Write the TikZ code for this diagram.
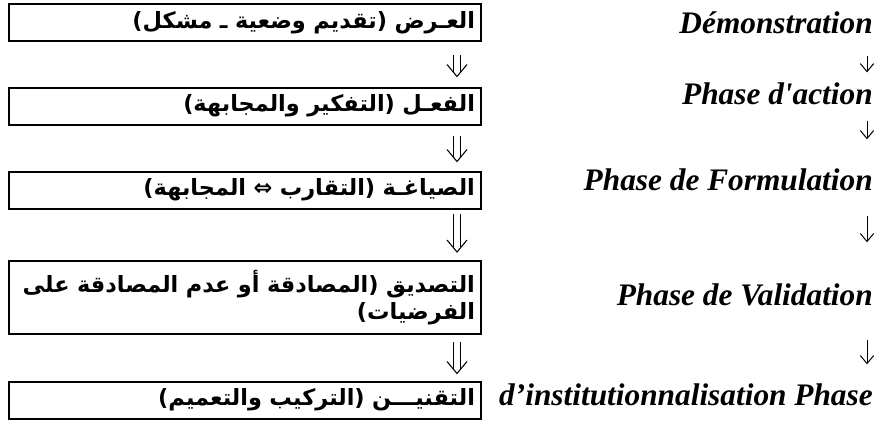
\documentclass[tikz,border=0pt]{standalone}
\usepackage{fontspec}
\newfontfamily\phasefont{Liberation Serif}
\newfontfamily\arabicfont[Script=Arabic]{DejaVu Sans}
\TeXXeTstate=1
\usetikzlibrary{calc, arrows.meta}

\begin{document}
\begin{tikzpicture}[x=0.75pt, y=-0.75pt,
  stagebox/.style={draw, rectangle, line width=1.5pt, minimum width=354pt,
    minimum height=27.75pt, text width=345pt, inner xsep=4.5pt, inner ysep=0pt,
    align=right, font=\arabicfont\bfseries\fontsize{16.8}{20.5}\selectfont},
  phase/.style={anchor=base east, inner sep=0pt,
    font=\phasefont\bfseries\itshape\fontsize{23.5}{28}\selectfont},
  dblarr/.style={line width=0.8pt},
  smallarr/.style={line width=0.75pt, -{Straight Barb[length=6pt,width=10pt]}}]

\useasboundingbox (0,0) rectangle (882,425);

% boxes on the left
\node[stagebox] (b1) at (245,22.5) {\beginR العـرض (تقديم وضعية ـ مشكل)\endR};
\node[stagebox] (b2) at (245,106) {\beginR الفعـل (التفكير والمجابهة)\endR};
\node[stagebox] (b3) at (245,190) {\beginR الصياغـة (التقارب ⇔ المجابهة)\endR};
\node[stagebox, minimum height=54.75pt] (b4) at (245,297.5)
  {\beginR التصديق (المصادقة أو عدم المصادقة على\endR\\\beginR الفرضيات)\endR};
\node[stagebox] (b5) at (245,400) {\beginR التقنيـــن (التركيب والتعميم)\endR};

% phases on the right
\node[phase] (r1) at (873,33) {Démonstration};
\node[phase] (r2) at (873,104) {Phase d'action};
\node[phase] (r3) at (873,190) {Phase de Formulation};
\node[phase] (r4) at (873,305) {Phase de Validation};
\node[phase] (r5) at (873,405) {d’institutionnalisation Phase};

% double arrows between the boxes
\foreach \a/\b/\s/\e in {b1/b2/13/10, b2/b3/10/9, b3/b4/4/8, b4/b5/7/7}{
  \path ($(\a.south east)+(-25,\s)$) coordinate (top)
        ($(\b.north east)+(-25,-\e)$) coordinate (tip);
  \draw[dblarr] ($(top)+(-3.8,0)$) -- ($(tip)+(-3.8,-4.6)$);
  \draw[dblarr] ($(top)+(3.8,0)$) -- ($(tip)+(3.8,-4.6)$);
  \draw[dblarr] ($(tip)+(-10,-12)$) -- (tip) -- ($(tip)+(10,-12)$);
}

% small arrows between the phases
\foreach \a/\b/\s/\e in {r1/r2/16.5pt/7.2pt, r2/r3/12pt/21.5pt,
                         r3/r4/19pt/30.5pt, r4/r5/26pt/14pt}{
  \draw[smallarr, shorten <=\s, shorten >=\e]
    ([xshift=-4.5pt]\a.south east) -- ([xshift=-4.5pt]\b.north east);
}

\end{tikzpicture}
\end{document}
